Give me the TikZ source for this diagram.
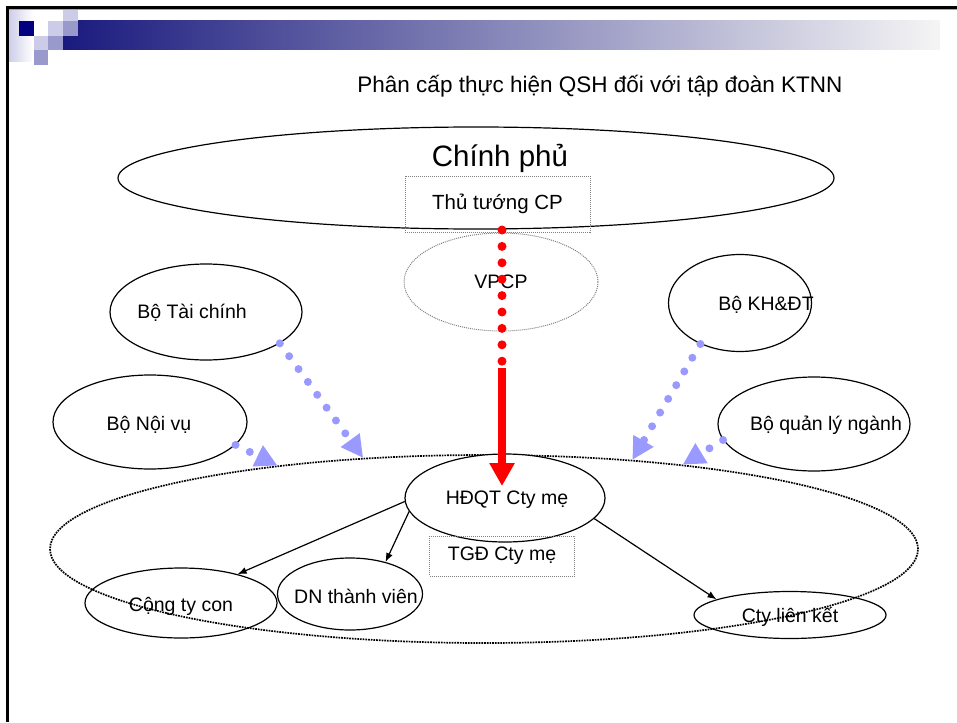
\documentclass[tikz,border=0pt]{standalone}
\usepackage{fontspec}
\setmainfont{Liberation Sans}
\usetikzlibrary{shapes.geometric,arrows.meta}

\definecolor{navyblue}{HTML}{000080}
\definecolor{lavlight}{HTML}{CCCCE8}
\definecolor{lavmid}{HTML}{9999CC}
\definecolor{bardark}{HTML}{1A1A7E}
\definecolor{dotblue}{HTML}{9999FF}

\tikzstyle{oval} = [draw=black, line width=1.2pt, ellipse, inner sep=0]
\tikzstyle{dotoval} = [draw=gray, densely dotted, line width=1pt, ellipse, inner sep=0]
\tikzstyle{dotbox} = [draw=gray, densely dotted, line width=1pt, rectangle, inner sep=0]
\tikzstyle{txt} = [font=\fontsize{19.5}{23}\selectfont, inner sep=0]
\tikzstyle{link} = [draw=black, line width=1.2pt, -{Latex[length=9pt,width=7pt]}]
\tikzstyle{bluedots} = [draw=dotblue, line width=8pt, line cap=round, dash pattern=on 0pt off 15.9pt, -{Triangle[length=22pt,width=22pt]}]
\tikzstyle{reddots} = [draw=red, line width=9pt, line cap=round, dash pattern=on 0pt off 16.4pt]
\tikzstyle{redarrow} = [draw=red, line width=8pt, -{Triangle[length=23pt,width=24pt]}]

\begin{document}
\begin{tikzpicture}[x=1pt,y=-1pt]
  \useasboundingbox (0,0) rectangle (957,722);

%Frame
	\shade[left color=lavlight, right color=white] (8,9) rectangle (33,62);
	\fill[navyblue] (19,21) rectangle (34,36);
	\fill[lavlight] (34,36) rectangle (48,50);
	\fill[lavmid]   (34,50) rectangle (48,65);
	\fill[lavlight] (48,21) rectangle (63,36);
	\fill[lavmid]   (48,36) rectangle (63,50);
	\shade[left color=bardark, right color=white!96!black] (63,21) rectangle (940,50);
	\fill[lavmid]   (63,21) rectangle (78,36);
	\fill[lavlight] (63,9) rectangle (78,21);
	\draw[gray!70, line width=1pt] (9,10) -- (957,10);
	\draw[line width=3pt] (7.5,722) -- (7.5,7.5) -- (957,7.5);

	\node[inner sep=0, font=\fontsize{22.5}{26}\selectfont] (title) at (600,86) {Phân cấp thực hiện QSH đối với tập đoàn KTNN};

%Nodes
	\node[oval, minimum width=716, minimum height=102] (cp) at (476,178) {};
	\node[inner sep=0, font=\fontsize{29.5}{34}\selectfont] (cplabel) at (500,158) {Chính phủ};
	\node[dotbox, minimum width=185, minimum height=56, font=\fontsize{20.5}{24}\selectfont] (ttcp) at (497.5,204) {Thủ tướng CP};
	\node[dotoval, minimum width=194, minimum height=98, txt] (vpcp) at (501,282) {VPCP};

	\node[oval, minimum width=192, minimum height=96] (btc) at (206,312) {};
	\node[txt] (btclabel) at (192,313) {Bộ Tài chính};
	\node[oval, minimum width=143, minimum height=97] (bkh) at (740,303) {};
	\node[txt] (bkhlabel) at (766,305) {Bộ KH\&ĐT};
	\node[oval, minimum width=194, minimum height=94] (bnv) at (150,422) {};
	\node[txt] (bnvlabel) at (149,425) {Bộ Nội vụ};
	\node[oval, minimum width=192, minimum height=94] (bql) at (814,424) {};
	\node[txt] (bqllabel) at (826,425) {Bộ quản lý ngành};

	\node[draw=black, densely dotted, line width=1.7pt, ellipse, inner sep=0, minimum width=868, minimum height=188] (grp) at (484,549) {};
	\node[oval, fill=white, minimum width=200, minimum height=88] (hdqt) at (505,498) {};
	\node[txt] (hdqtlabel) at (507,500) {HĐQT Cty mẹ};
	\node[dotbox, minimum width=145, minimum height=40, txt] (tgd) at (502,556) {TGĐ Cty mẹ};

	\node[oval, minimum width=192, minimum height=70] (cty) at (181,603) {};
	\node[txt] (ctylabel) at (181,606) {Cộng ty con};
	\node[oval, minimum width=145, minimum height=72] (dn) at (350,594) {};
	\node[txt] (dnlabel) at (356,596) {DN thành viên};
	\node[oval, minimum width=192, minimum height=47] (clk) at (790,615) {};
	\node[txt] (clklabel) at (790,617) {Cty liên kết};

%Connections
	\coordinate (rtop) at (502,230);
	\coordinate (rmid) at (502,362);
	\coordinate (rstart) at (502,368);
	\coordinate (rtip) at (502,486);
	\draw[reddots] (rtop) -- (rmid);
	\draw[redarrow] (rstart) -- (rtip);

	\draw[bluedots] (btc.-23) -- (grp.143);
	\draw[bluedots] (bnv.-15) -- (grp.158);
	\draw[bluedots] (bkh.-134) -- (grp.31);
	\draw[bluedots] (bql.190) -- (grp.23);

	\draw[link] (hdqt.182) -- (cty.27);
	\draw[link] (hdqt.188) -- (dn.42);
	\draw[link] (hdqt.-13) -- (clk.168);

\end{tikzpicture}
\end{document}
